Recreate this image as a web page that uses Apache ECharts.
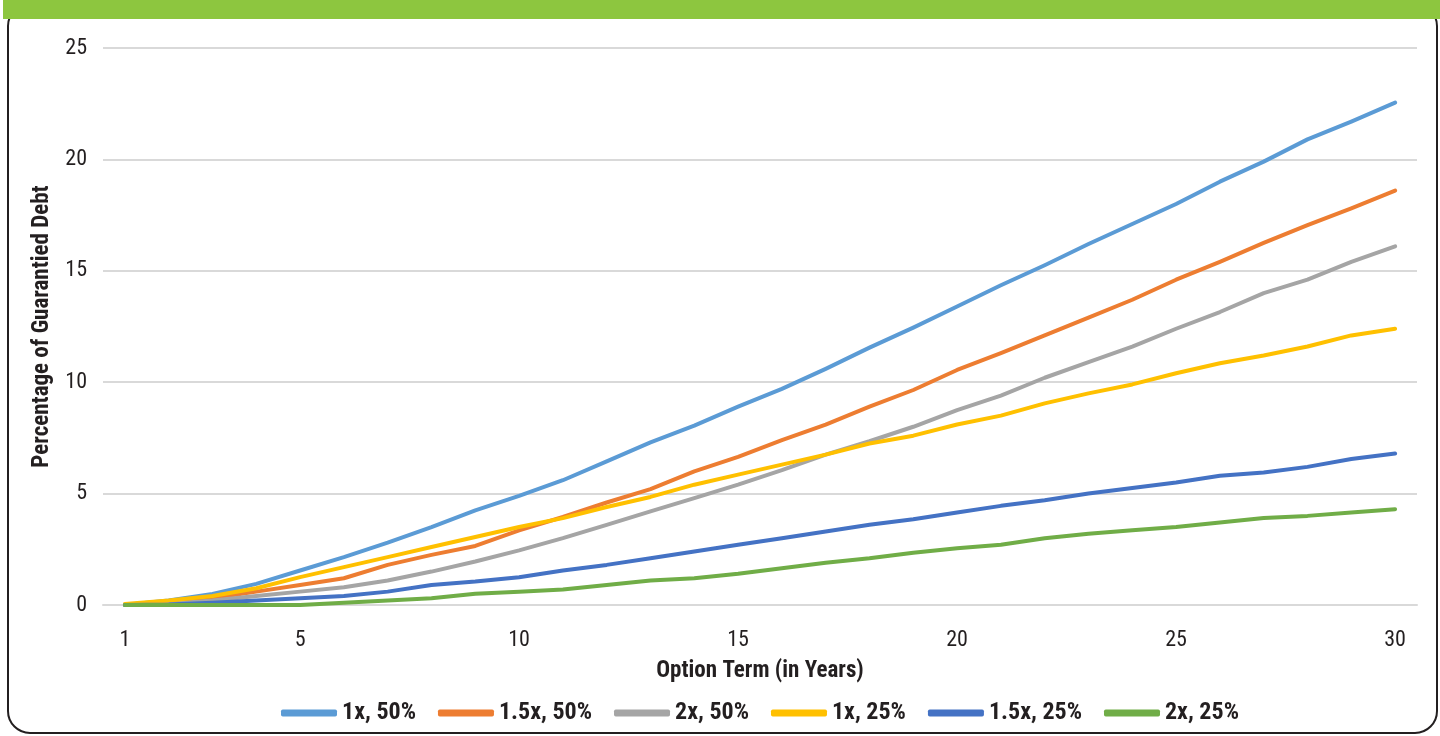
<!DOCTYPE html>
<html>
<head>
<meta charset="utf-8">
<script src="https://cdn.jsdelivr.net/npm/echarts@6/dist/echarts.min.js"></script>
<style>
  html, body { margin: 0; padding: 0; background: #fff; }
  #chartDom { width: 1440px; height: 736px; }
</style>
</head>
<body>
<div id="chartDom"></div>
<script>
// option term, years 1..30
const years = [];
for (let y = 1; y <= 30; y++) years.push(String(y));
const shownYears = ["1", "5", "10", "15", "20", "25", "30"];

// percentage of guarantied debt
const s1x50 = [0, 0.2, 0.5, 0.95, 1.55, 2.15, 2.8, 3.5, 4.25, 4.9,
  5.6, 6.45, 7.3, 8.05, 8.9, 9.7, 10.6, 11.55, 12.45, 13.4,
  14.35, 15.25, 16.2, 17.1, 18.0, 19.0, 19.9, 20.9, 21.7, 22.55];
const s15x50 = [0, 0.1, 0.3, 0.6, 0.9, 1.2, 1.8, 2.25, 2.65, 3.35,
  3.95, 4.6, 5.2, 6.0, 6.65, 7.4, 8.1, 8.9, 9.65, 10.55,
  11.3, 12.1, 12.9, 13.7, 14.6, 15.4, 16.25, 17.05, 17.8, 18.6];
const s2x50 = [0, 0.05, 0.2, 0.4, 0.6, 0.8, 1.1, 1.5, 1.95, 2.45,
  3.0, 3.6, 4.2, 4.8, 5.4, 6.05, 6.75, 7.35, 8.0, 8.75,
  9.4, 10.2, 10.9, 11.6, 12.4, 13.15, 14.0, 14.6, 15.4, 16.1];
const s1x25 = [0.05, 0.2, 0.4, 0.75, 1.25, 1.7, 2.15, 2.6, 3.05, 3.5,
  3.9, 4.4, 4.85, 5.4, 5.85, 6.3, 6.75, 7.25, 7.6, 8.1,
  8.5, 9.05, 9.5, 9.9, 10.4, 10.85, 11.2, 11.6, 12.1, 12.4];
const s15x25 = [0, 0.02, 0.1, 0.2, 0.3, 0.4, 0.6, 0.9, 1.05, 1.25,
  1.55, 1.8, 2.1, 2.4, 2.7, 3.0, 3.3, 3.6, 3.85, 4.15,
  4.45, 4.7, 5.0, 5.25, 5.5, 5.8, 5.95, 6.2, 6.55, 6.8];
const s2x25 = [0, 0, 0, 0, 0, 0.1, 0.2, 0.3, 0.5, 0.6,
  0.7, 0.9, 1.1, 1.2, 1.4, 1.65, 1.9, 2.1, 2.35, 2.55,
  2.7, 3.0, 3.2, 3.35, 3.5, 3.7, 3.9, 4.0, 4.15, 4.3];

const seriesNames = ["1x, 50%", "1.5x, 50%", "2x, 50%", "1x, 25%", "1.5x, 25%", "2x, 25%"];
const seriesData = [s1x50, s15x50, s2x50, s1x25, s15x25, s2x25];
const colors = ["#5b9bd5", "#ed7d31", "#a5a5a5", "#ffc000", "#4472c4", "#70ad47"];

const font = '"Liberation Sans Narrow", "Arial Narrow", "Roboto Condensed", "Liberation Sans", sans-serif';

const chart = echarts.init(document.getElementById("chartDom"));

const options = {
  animation: false,
  color: colors,
  textStyle: { fontFamily: font },
  grid: { left: 103, right: 23, top: 48, bottom: 131, containLabel: false },
  graphic: [
    // frame
    {
      type: "rect",
      z: 0,
      shape: { x: 8, y: 4, width: 1429, height: 729, r: 22 },
      style: { fill: "none", stroke: "#231f20", lineWidth: 2 },
    },
    // green header band
    {
      type: "rect",
      z: 1,
      shape: { x: 3, y: 0, width: 1437, height: 19 },
      style: { fill: "#8dc63f" },
    },
  ],
  xAxis: {
    type: "category",
    data: years,
    boundaryGap: true,
    name: "Option Term (in Years)",
    nameLocation: "middle",
    nameGap: 55,
    nameTextStyle: { fontFamily: font, fontWeight: "bold", fontSize: 23, color: "#231f20" },
    axisLine: { show: true, lineStyle: { color: "#d9d9d9", width: 2 } },
    axisTick: { show: false },
    axisLabel: {
      interval: (idx, val) => shownYears.includes(val),
      margin: 24,
      fontFamily: font,
      fontSize: 22,
      color: "#231f20",
    },
    splitLine: { show: false },
  },
  yAxis: {
    type: "value",
    min: 0,
    max: 25,
    interval: 5,
    name: "Percentage of Guarantied Debt",
    nameLocation: "middle",
    nameGap: 49,
    nameTextStyle: { fontFamily: font, fontWeight: "bold", fontSize: 23, color: "#231f20" },
    axisLine: { show: false },
    axisTick: { show: false },
    axisLabel: { margin: 16, fontFamily: font, fontSize: 22, color: "#231f20" },
    splitLine: { lineStyle: { color: "#d9d9d9", width: 2 } },
  },
  legend: {
    data: seriesNames,
    top: 696,
    left: 276,
    icon: "roundRect",
    itemWidth: 56,
    itemHeight: 7,
    itemGap: 22,
    selectedMode: false,
    textStyle: { fontFamily: font, fontWeight: "bold", fontSize: 24, color: "#231f20" },
  },
  series: seriesNames.map((name, i) => ({
    name: name,
    type: "line",
    data: seriesData[i],
    symbol: "none",
    lineStyle: { width: 4, cap: "round", join: "round" },
  })),
};

chart.setOption(options);
</script>
</body>
</html>
